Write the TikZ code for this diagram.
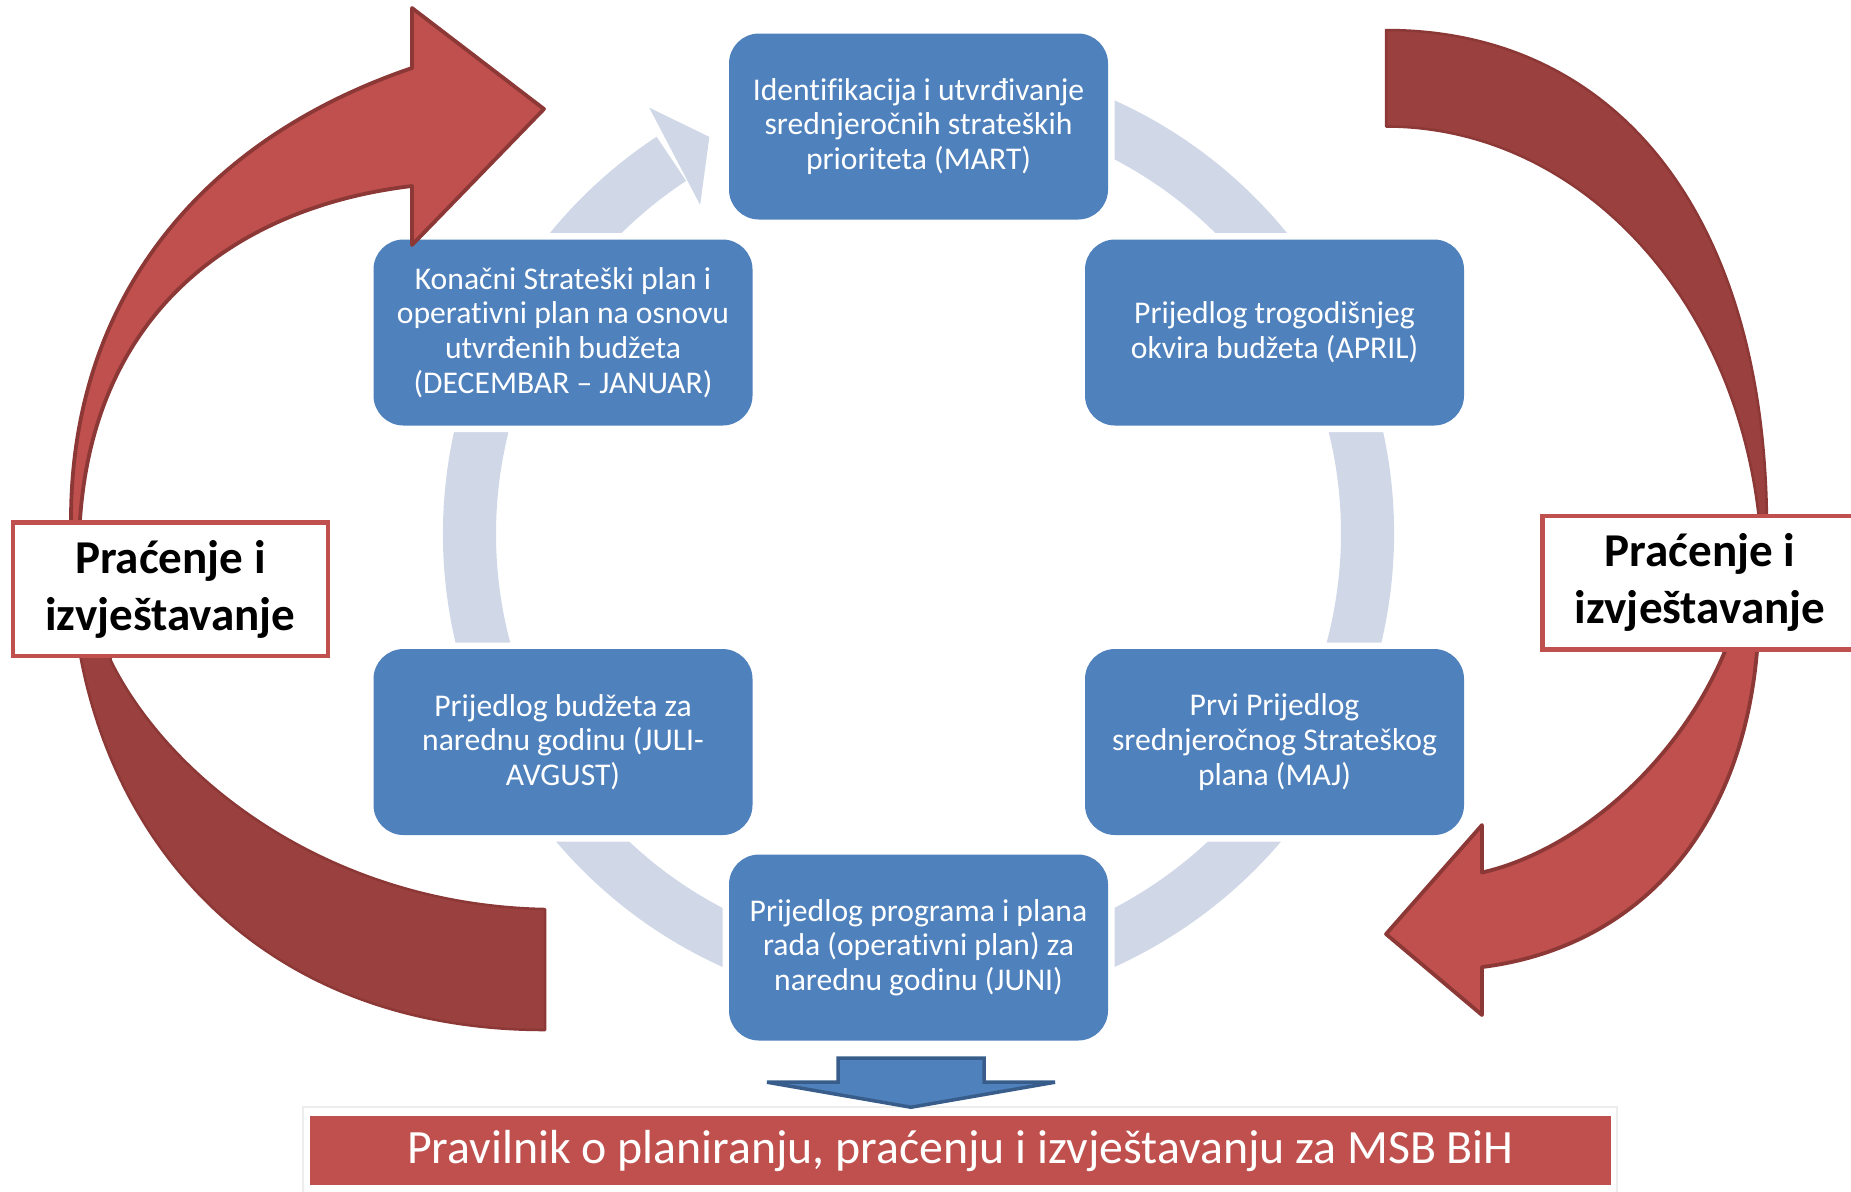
\documentclass[tikz,border=0pt]{standalone}
\usepackage{fontspec}
\setmainfont{Carlito}[Ligatures={TeX,NoCommon,NoContextual}]
\usepackage{xcolor}
\usetikzlibrary{calc}
\definecolor{boxblue}{HTML}{4F81BD}
\definecolor{arrowblue}{HTML}{385D8A}
\definecolor{ringgray}{HTML}{D0D8E8}
\definecolor{boxred}{HTML}{C0504D}
\definecolor{darkred}{HTML}{9A403E}
\definecolor{redline}{HTML}{8C3836}
\tikzstyle{stepbox}=[rounded corners=0.3cm, fill=boxblue, text=white, minimum width=3.79cm, minimum height=1.86cm, inner sep=0pt, align=center, font=\fontsize{9}{9.9}\selectfont, preaction={draw=white, line width=0.13cm}]
\tikzstyle{monbox}=[draw=boxred, line width=0.045cm, fill=white, minimum width=3.15cm, minimum height=1.335cm, inner sep=0pt, align=center, font=\bfseries\fontsize{13.4}{16.2}\selectfont]
\tikzstyle{banner}=[fill=boxred, text=white, minimum width=13.01cm, minimum height=0.69cm, inner sep=0pt, font=\fontsize{13.6}{16}\selectfont]
\tikzstyle{lightband}=[fill=boxred, draw=redline, line width=0.038cm, line join=round]
\tikzstyle{darkband}=[fill=darkred, draw=redline, line width=0.025cm, line join=round]

\begin{document}
\begin{tikzpicture}
	\useasboundingbox (0,0) rectangle (18.51,-11.91);
	\begin{scope}[shift={(9.185,-5.336)}]
		\draw[ringgray, line width=0.531cm] (123.4:4.49) arc (123.4:474.3:4.49);
		\fill[ringgray] (122.3:5.04) -- (117.8:4.485) -- (123.6:3.946) -- cycle;
	\end{scope}
	\node[stepbox] (mart) at (9.185,-1.265) {Identifikacija i utvrđivanje\\srednjeročnih strateških\\prioriteta (MART)};
	\node[stepbox] (april) at (12.745,-3.325) {Prijedlog trogodišnjeg\\okvira budžeta (APRIL)};
	\node[stepbox] (maj) at (12.745,-7.42) {Prvi Prijedlog\\srednjeročnog Strateškog\\plana (MAJ)};
	\node[stepbox] (juni) at (9.185,-9.475) {Prijedlog programa i plana\\rada (operativni plan) za\\narednu godinu (JUNI)};
	\node[stepbox] (juli) at (5.63,-7.42) {Prijedlog budžeta za\\narednu godinu (JULI-\\AVGUST)};
	\node[stepbox] (dec) at (5.63,-3.325) {Konačni Strateški plan i\\operativni plan na osnovu\\utvrđenih budžeta\\(DECEMBAR – JANUAR)};
	\draw[darkband] (0.71,-5.6) .. controls (0.73,-8.0) and (2.30,-10.30) .. (5.45,-10.30) -- (5.45,-9.09) .. controls (3.30,-9.05) and (1.70,-7.80) .. (1.11,-6.61) -- (0.95,-5.6) -- cycle;
	\draw[lightband] (0.71,-5.35) -- (0.71,-5.2) .. controls (0.71,-3.0) and (2.00,-1.40) .. (4.12,-0.68) -- (4.12,-0.08) -- (5.44,-1.09) -- (4.12,-2.45) -- (4.12,-1.86) .. controls (2.50,-2.05) and (0.95,-3.00) .. (0.80,-5.2) -- (0.80,-5.35) -- cycle;
	\draw[darkband] (13.86,-0.30) .. controls (16.20,-0.30) and (17.67,-2.20) .. (17.67,-5.3) -- (17.60,-5.3) .. controls (17.40,-3.00) and (15.80,-1.265) .. (13.86,-1.265) -- cycle;
	\draw[lightband] (17.60,-5.6) -- (17.25,-6.51) .. controls (16.80,-7.60) and (15.80,-8.50) .. (14.82,-8.725) -- (14.82,-8.25) -- (13.86,-9.34) -- (14.82,-10.15) -- (14.82,-9.67) .. controls (16.20,-9.50) and (17.40,-8.50) .. (17.57,-6.51) -- (17.66,-5.6) -- cycle;
	\node[monbox] (monleft) at (1.7035,-5.89) {Praćenje i\\izvještavanje};
	\node[monbox] (monright) at (17.0,-5.825) {Praćenje i\\izvještavanje};
	\draw[black!7, fill=white] (3.03,-11.07) rectangle (16.17,-12.0);
	\node[banner] (rule) at (9.605,-11.505) {Pravilnik o planiranju, praćenju i izvještavanju za MSB BiH};
	\begin{scope}[shift={(juni.south)}]
		\filldraw[fill=boxblue, draw=arrowblue, line width=0.035cm] (-0.805,-0.17) -- (0.655,-0.17) -- (0.655,-0.41) -- (1.365,-0.41) -- (-0.075,-0.66) -- (-1.515,-0.41) -- (-0.805,-0.41) -- cycle;
	\end{scope}
\end{tikzpicture}
\end{document}
